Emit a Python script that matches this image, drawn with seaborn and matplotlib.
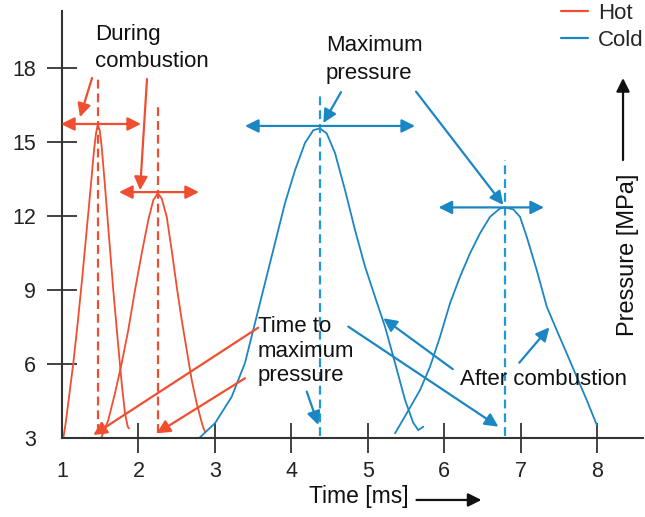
import matplotlib
matplotlib.use("Agg")
import matplotlib.pyplot as plt
import seaborn as sns
import pandas as pd

# ---------------- data ----------------
hot1_t = [1.017, 1.048, 1.092, 1.148, 1.205, 1.266, 1.323, 1.376, 1.419, 1.445, 1.467,
          1.493, 1.519, 1.563, 1.615, 1.671, 1.729, 1.781, 1.824, 1.860, 1.877]
hot1_p = [3.00, 3.60, 4.67, 6.03, 7.65, 9.53, 11.42, 13.18, 14.66, 15.34, 15.68,
          15.48, 14.80, 13.18, 11.15, 8.99, 6.97, 5.22, 4.00, 3.46, 3.39]

hot2_t = [1.519, 1.606, 1.693, 1.781, 1.867, 1.955, 2.043, 2.129, 2.195, 2.252,
          2.304, 2.370, 2.435, 2.501, 2.566, 2.632, 2.697, 2.762, 2.819, 2.849, 2.871]
hot2_p = [3.05, 3.73, 4.81, 6.03, 7.37, 8.99, 10.48, 11.83, 12.64, 12.91,
          12.71, 11.96, 10.61, 9.13, 7.78, 6.56, 5.35, 4.41, 3.73, 3.41, 3.26]

cold1_t = [2.796, 3.002, 3.220, 3.394, 3.525, 3.656, 3.787, 3.918, 4.049, 4.179, 4.288,
           4.376, 4.463, 4.572, 4.703, 4.834, 4.965, 5.095, 5.226, 5.357, 5.488,
           5.596, 5.662, 5.727]
cold1_p = [3.00, 3.60, 4.67, 6.04, 7.66, 9.28, 10.90, 12.52, 13.85, 14.95, 15.47,
           15.54, 15.34, 14.54, 13.04, 11.42, 9.94, 8.72, 7.51, 6.04, 4.54,
           3.61, 3.32, 3.46]

cold2_t = [5.357, 5.510, 5.684, 5.815, 5.946, 6.077, 6.207, 6.338, 6.469, 6.600, 6.731,
           6.796, 6.905, 6.992, 7.080, 7.211, 7.342, 7.472, 7.603, 7.734, 7.865, 7.996]
cold2_p = [3.19, 4.00, 4.94, 5.89, 7.10, 8.46, 9.53, 10.48, 11.29, 11.96, 12.30,
           12.34, 12.26, 11.96, 11.15, 9.80, 8.32, 7.37, 6.43, 5.48, 4.54, 3.53]

# times of maximum pressure and extent of the dashed markers
peak_t = [1.467, 2.256, 4.376, 6.796]
peak_series = ["Hot", "Hot", "Cold", "Cold"]
dash_bottom = [3.2, 3.2, 3.1, 3.1]
dash_top = [17.62, 16.53, 17.03, 14.26]

# double-headed "maximum pressure" arrows
span_level = [15.72, 12.96, 15.64, 12.34]
span_left = [0.987, 1.746, 3.394, 5.926]
span_right = [2.034, 2.792, 5.619, 7.306]

x_ticks = [1, 2, 3, 4, 5, 6, 7, 8]
y_ticks = [3, 6, 9, 12, 15, 18]

HOT = "#F04E30"
COLD = "#1A86C4"
COLD_DASH = "#1E9AD8"
colors = {"Hot": HOT, "Cold": COLD}

# ---------------- build long-form table ----------------
rows = []
for name, series, ts, ps in [("h1", "Hot", hot1_t, hot1_p), ("h2", "Hot", hot2_t, hot2_p),
                             ("c1", "Cold", cold1_t, cold1_p), ("c2", "Cold", cold2_t, cold2_p)]:
    for t, p in zip(ts, ps):
        rows.append({"Time": t, "Pressure": p, "Condition": series, "Run": name})
df = pd.DataFrame(rows)

sns.set_style("ticks")
plt.rcParams["font.family"] = ["Liberation Sans", "DejaVu Sans"]

fig = plt.figure(figsize=(6.45, 5.17), dpi=100)
ax = fig.add_axes([62 / 645, 79 / 517, 580.9 / 645, 427.1 / 517])

sns.lineplot(data=df, x="Time", y="Pressure", hue="Condition", units="Run",
             estimator=None, sort=False, palette=colors, hue_order=["Hot", "Cold"],
             linewidth=1.3, ax=ax)

# dashed vertical markers at maximum pressure
for t, s, b, tp in zip(peak_t, peak_series, dash_bottom, dash_top):
    c = HOT if s == "Hot" else COLD_DASH
    ax.vlines(t, b, tp, colors=c, linestyles=(0, (4, 2.2)), linewidth=1.6)

# double-headed arrows
for s, lv, l, r in zip(peak_series, span_level, span_left, span_right):
    c = HOT if s == "Hot" else COLD
    ax.annotate("", xy=(r, lv), xytext=(l, lv), annotation_clip=False,
                arrowprops=dict(arrowstyle="<|-|>", color=c, lw=1.6,
                                mutation_scale=20, shrinkA=0, shrinkB=0))

def arrow(x0, y0, x1, y1, c):
    ax.annotate("", xy=(x1, y1), xytext=(x0, y0), annotation_clip=False,
                arrowprops=dict(arrowstyle="-|>", color=c, lw=1.6,
                                mutation_scale=20, shrinkA=0, shrinkB=0))

# During combustion
ax.text(1.432, 18.80, "During\ncombustion", fontsize=16, ha="left", va="center",
        linespacing=1.35, color="#111")
arrow(1.393, 17.58, 1.236, 16.00, HOT)
arrow(2.112, 17.54, 2.021, 13.04, HOT)

# Maximum pressure
ax.text(4.454, 18.33, "Maximum\npressure", fontsize=16, ha="left", va="center",
        linespacing=1.4, color="#111")
arrow(4.650, 17.01, 4.419, 15.76, COLD)
arrow(5.632, 17.03, 6.774, 12.44, COLD)

# Time to maximum pressure
ax.text(3.565, 6.52, "Time to\nmaximum\npressure", fontsize=16, ha="left", va="center",
        linespacing=1.2, color="#111")
arrow(3.568, 7.47, 1.410, 3.12, HOT)
arrow(3.394, 5.42, 2.239, 3.19, HOT)
arrow(4.202, 4.88, 4.353, 3.53, COLD)
arrow(4.746, 7.51, 6.709, 3.46, COLD)

# After combustion
ax.text(6.207, 5.35, "After combustion", fontsize=16, ha="left", va="center", color="#111")
arrow(6.112, 5.79, 5.204, 7.85, COLD)
arrow(6.983, 6.05, 7.376, 7.48, COLD)

# axes styling
ax.set_xlim(1, 8.6)
ax.set_ylim(3, 20.3)
ax.set_xticks(x_ticks)
ax.set_xticklabels([str(v) for v in x_ticks])
ax.set_yticks(y_ticks)
ax.set_yticklabels([str(v) for v in y_ticks])
ax.tick_params(axis="both", direction="inout", length=21, width=1.2, colors="#222",
               labelsize=15.5)
ax.tick_params(axis="x", pad=6)
ax.tick_params(axis="y", pad=8)
ax.xaxis.get_major_ticks()[0].tick1line.set_visible(False)
ax.yaxis.get_major_ticks()[0].tick1line.set_visible(False)
for side in ["top", "right"]:
    ax.spines[side].set_visible(False)
for side in ["left", "bottom"]:
    ax.spines[side].set_linewidth(1.5)
    ax.spines[side].set_color("#333")

ax.set_xlabel("Time [ms]", fontsize=16.5, color="#111")
ax.xaxis.set_label_coords(0.511, -0.138)
ax.xaxis.label.set_va("center")
ax.set_ylabel("Pressure [MPa]", fontsize=17, color="#111", rotation=90)
ax.yaxis.set_label_coords(0.974, 0.428)
ax.yaxis.label.set_va("center")
ax.yaxis.label.set_ha("center")

# axis direction arrows
arrow(5.638, 0.49, 6.488, 0.49, "#111")
arrow(8.340, 14.26, 8.340, 17.58, "#111")

leg = ax.legend(loc="upper left", bbox_to_anchor=(561 / 645, 1 - 3 / 517),
                bbox_transform=fig.transFigure, frameon=False, fontsize=16,
                handlelength=1.2, handletextpad=0.45, borderaxespad=0, borderpad=0,
                labelspacing=0.25, title=None)
for h in leg.get_lines():
    h.set_linewidth(1.6)

fig.savefig("out.png", dpi=100)
